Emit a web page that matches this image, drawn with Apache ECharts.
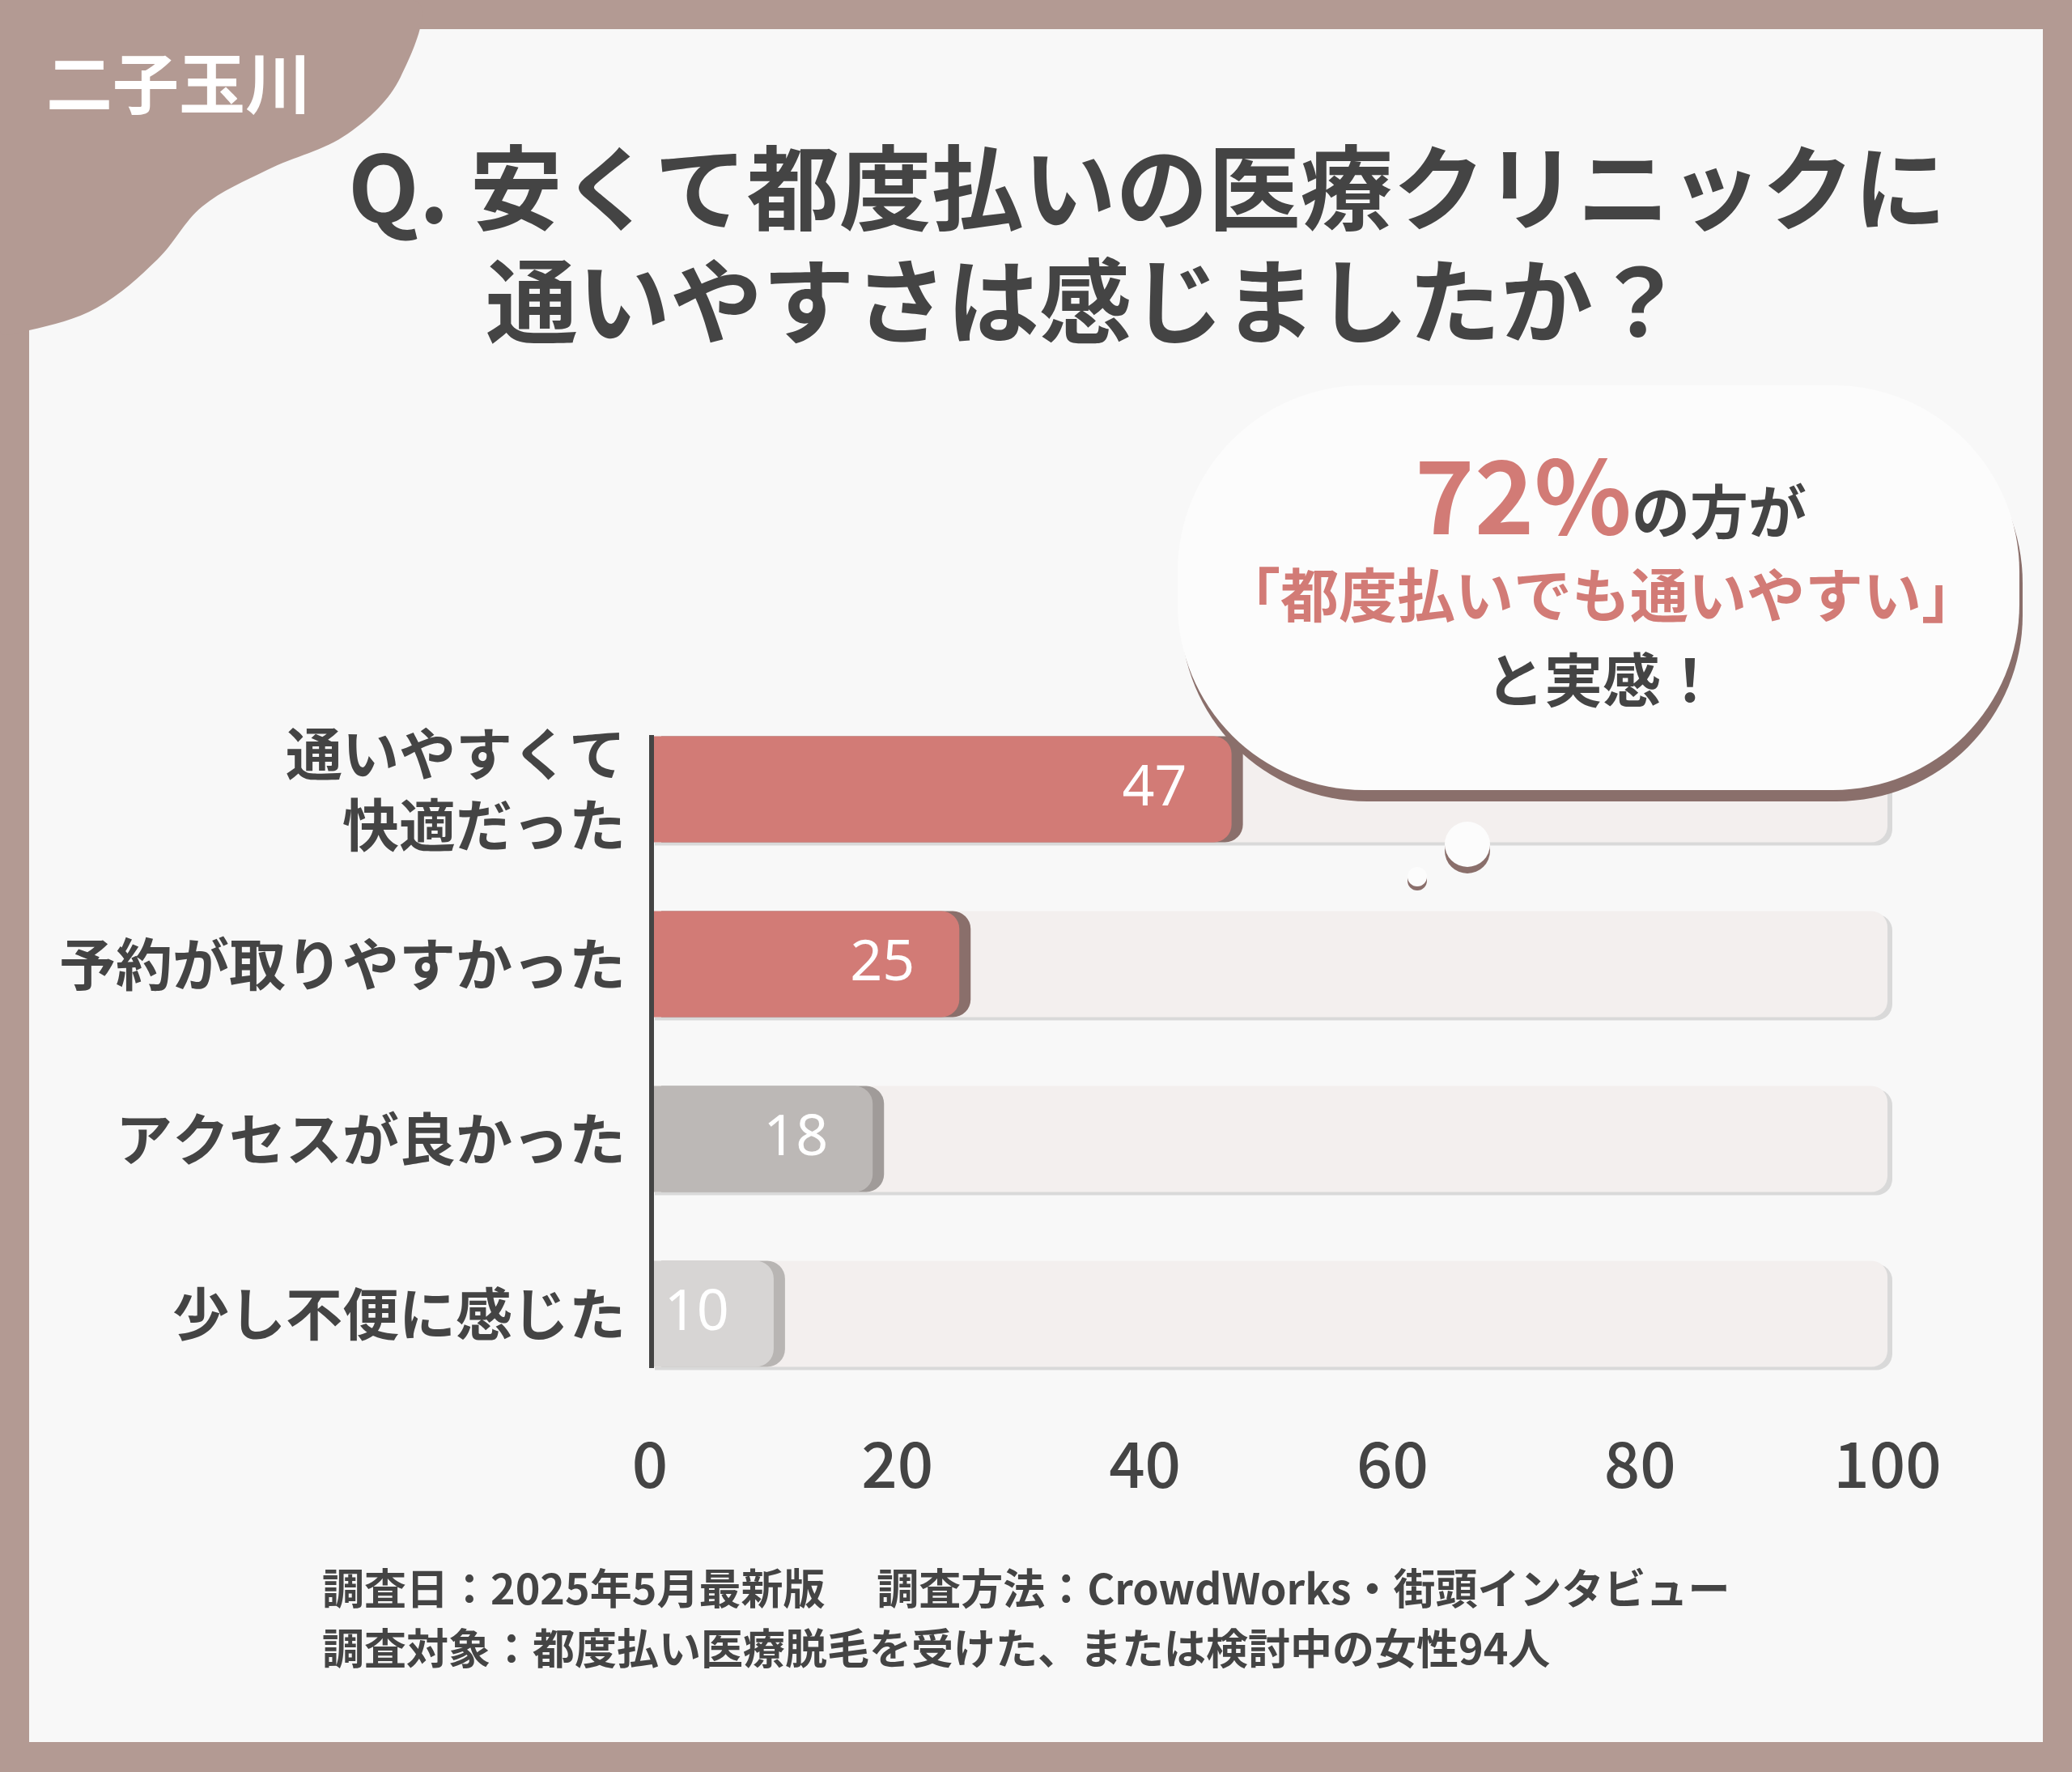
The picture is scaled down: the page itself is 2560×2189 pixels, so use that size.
<!DOCTYPE html>
<html><head><meta charset="utf-8">
<script src="https://cdn.jsdelivr.net/npm/echarts@6/dist/echarts.min.js"></script>
<style>html,body{margin:0;padding:0;background:#b39a93}#c{width:2560px;height:2189px}</style>
</head><body><div id="c"></div>
<script>
const categories = ['通いやすくて\n快適だった', '予約が取りやすかった', 'アクセスが良かった', '少し不便に感じた'];
const values = [47, 25, 18, 10];
const barColors = ['#d27b76', '#d27b76', '#bcb8b6', '#d7d5d4'];
const shadowColors = ['#8a6f6b', '#8a6f6b', '#a09b99', '#b8b5b3'];
const fullScale = [100, 100, 100, 100];

const font = '"Noto Sans CJK JP", "Noto Sans", sans-serif';
const chart = echarts.init(document.getElementById('c'));

chart.setOption({
  backgroundColor: '#b39a93',
  textStyle: { fontFamily: font },
  grid: { left: 803, right: 228, top: 867, bottom: 458 },
  xAxis: {
    type: 'value', min: 0, max: 100, interval: 20,
    axisLine: { show: false }, axisTick: { show: false }, splitLine: { show: false },
    axisLabel: { color: '#444', fontSize: 78, fontWeight: 500, margin: 38, fontFamily: font }
  },
  yAxis: {
    type: 'category', inverse: true, data: categories,
    axisLine: { show: false },
    axisTick: { show: false },
    axisLabel: { color: '#444', fontSize: 70, fontWeight: 'bold', margin: 30, lineHeight: 88, align: 'right', fontFamily: font }
  },
  graphic: [
    { type: 'rect', z: -10, shape: { x: 36, y: 36, width: 2488, height: 2116 }, style: { fill: '#f8f8f8' } },
    { type: 'polygon', z: -5, shape: { smooth: 0.35, points: [[0, 0], [510, 0], [495, 95], [430, 165], [330, 210], [250, 255], [195, 320], [120, 380], [36, 408], [0, 408]] }, style: { fill: '#b39a93' } },
    { type: 'text', left: 57, top: 62, style: { text: '二子玉川', fill: '#fff', font: 'bold 82px ' + font } },
    { type: 'text', left: 430, top: 175, style: { text: 'Q. 安くて都度払いの医療クリニックに', fill: '#444', font: 'bold 114px ' + font } },
    { type: 'text', left: 600, top: 315, style: { text: '通いやすさは感じましたか？', fill: '#444', font: 'bold 114px ' + font } },
    { type: 'line', z: 5, shape: { x1: 805, y1: 908, x2: 805, y2: 1690 }, style: { stroke: '#444', lineWidth: 6 } },
    { type: 'rect', z: 20, shape: { x: 1455, y: 476, width: 1040, height: 500, r: 230 },
      style: { fill: '#fcfcfc', shadowColor: '#8a6f6b', shadowOffsetY: 14, shadowOffsetX: 4, shadowBlur: 0 } },
    { type: 'circle', z: 20, shape: { cx: 1813, cy: 1043, r: 28 }, style: { fill: '#fcfcfc', shadowColor: '#8a6f6b', shadowOffsetY: 8 } },
    { type: 'circle', z: 20, shape: { cx: 1751, cy: 1083, r: 12 }, style: { fill: '#fcfcfc', shadowColor: '#8a6f6b', shadowOffsetY: 5 } },
    { type: 'text', z: 21, x: 1990, y: 612, style: {
      text: '{a|72%}{b|の方が}', align: 'center', verticalAlign: 'middle',
      rich: { a: { fill: '#d27b76', font: 'bold 125px ' + font }, b: { fill: '#444', font: 'bold 72px ' + font, padding: [40, 0, 0, 0] } } } },
    { type: 'text', z: 21, x: 1978, y: 735, style: { text: '「都度払いでも通いやすい」', fill: '#d27b76', font: 'bold 72px ' + font, align: 'center', verticalAlign: 'middle' } },
    { type: 'text', z: 21, x: 1980, y: 840, style: { text: 'と実感！', fill: '#444', font: 'bold 72px ' + font, align: 'center', verticalAlign: 'middle' } },
    { type: 'text', left: 398, top: 1925, style: { text: '調査日：2025年5月最新版　 調査方法：CrowdWorks・街頭インタビュー\n調査対象：都度払い医療脱毛を受けた、または検討中の女性94人', fill: '#444', font: 'bold 52px ' + font, lineHeight: 74 } }
  ],
  series: [
    {
      type: 'bar', data: fullScale, barWidth: 131, silent: true,
      itemStyle: { color: '#f3efee', borderRadius: [0, 20, 20, 0], shadowColor: 'rgba(0,0,0,0.12)', shadowOffsetX: 6, shadowOffsetY: 4 }
    },
    {
      type: 'bar', barGap: '-100%', barWidth: 131, z: 3,
      data: values.map((v, i) => ({ value: v, itemStyle: { color: barColors[i], shadowColor: shadowColors[i] } })),
      itemStyle: { borderRadius: [0, 22, 22, 0], shadowOffsetX: 14, shadowBlur: 0 },
      label: { show: true, position: 'insideRight', distance: 55, color: '#fff', fontSize: 70, fontFamily: '"Noto Sans", sans-serif' }
    }
  ]
});
</script></body></html>
